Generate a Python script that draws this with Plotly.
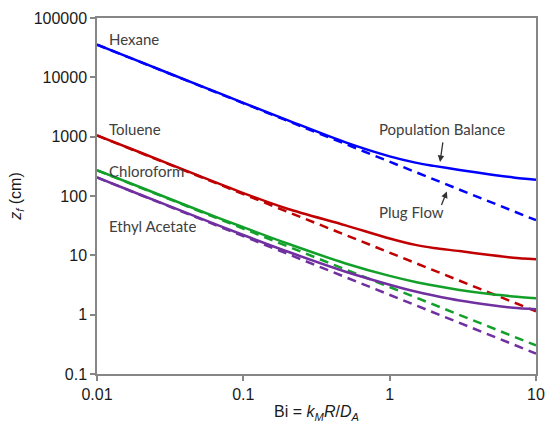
import math
import plotly.graph_objects as go

# Bi values (x) at which curves were read
bi = [0.01, 0.02, 0.05, 0.1, 0.2, 0.5, 1, 1.5, 2, 3, 5, 7, 10]

# Population balance (solid) z_f values, cm
hexane_pb = [35600, 18000, 7330, 3720, 1900, 800, 465, 365, 322, 275, 228, 205, 187]
toluene_pb = [1047, 535, 218, 112, 61, 32, 19.2, 15.0, 13.3, 11.8, 10.0, 9.1, 8.6]
chloroform_pb = [273, 139, 57, 29.7, 15.8, 7.3, 4.5, 3.56, 3.1, 2.6, 2.2, 2.03, 1.9]
ethyl_pb = [206, 104, 42.8, 22, 11.6, 5.3, 3.2, 2.45, 2.1, 1.73, 1.44, 1.31, 1.23]

# Plug flow (dashed) z_f values, cm
bi_pf = [0.01, 0.1, 1, 10]
hexane_pf = [35500, 3660, 378, 39.1]
toluene_pf = [1047, 107.7, 10.9, 1.14]
chloroform_pf = [271, 28.1, 2.92, 0.303]
ethyl_pf = [205, 21.0, 2.16, 0.221]

names = ["Hexane", "Toluene", "Chloroform", "Ethyl Acetate"]
colors = ["#0000FF", "#C00000", "#12A02A", "#7030A0"]
pb_series = [hexane_pb, toluene_pb, chloroform_pb, ethyl_pb]
pf_series = [hexane_pf, toluene_pf, chloroform_pf, ethyl_pf]

# label positions (data coords)
label_x = [0.01166, 0.01166, 0.01166, 0.01166]
label_y = [44300, 1360, 269, 31.5]

x_ticks = [0.01, 0.1, 1, 10]
x_ticktext = ["0.01", "0.1", "1", "10"]
y_ticks = [0.1, 1, 10, 100, 1000, 10000, 100000]
y_ticktext = ["0.1", "1", "10", "100", "1000", "10000", "100000"]

L = math.log10  # annotations on log axes take log10 positions

fig = go.Figure()
for name, c, pf in zip(names, colors, pf_series):
    fig.add_trace(go.Scatter(x=bi_pf, y=pf, mode="lines", name=name + " PF",
                             line=dict(color=c, width=2.5, dash="9px,6px"),
                             showlegend=False, hoverinfo="skip"))
for name, c, pb in zip(names, colors, pb_series):
    fig.add_trace(go.Scatter(x=bi, y=pb, mode="lines", name=name,
                             line=dict(color=c, width=2.5, shape="spline", smoothing=0.8),
                             showlegend=False))

lab_font = dict(family="Lato, Carlito, sans-serif", size=15, color="#404040")
for n, lx, ly in zip(names, label_x, label_y):
    fig.add_annotation(x=L(lx), y=L(ly), xref="x", yref="y", text=n, showarrow=False,
                       xanchor="left", yanchor="middle", font=lab_font)

# Population Balance / Plug Flow labels with arrows
fig.add_annotation(x=L(2.29), y=L(1360), text="Population Balance", showarrow=False,
                   xanchor="center", yanchor="middle", font=lab_font)
fig.add_annotation(x=L(1.40), y=L(54.7), text="Plug Flow", showarrow=False,
                   xanchor="center", yanchor="middle", font=lab_font)
fig.add_annotation(x=L(2.21), y=L(375), text="", showarrow=True, ax=3, ay=-21,
                   arrowhead=2, arrowsize=1, arrowwidth=1.3, arrowcolor="#333333")
fig.add_annotation(x=L(2.46), y=L(119), text="", showarrow=True, ax=-6, ay=15,
                   arrowhead=2, arrowsize=1, arrowwidth=1.3, arrowcolor="#333333")

axis_common = dict(showgrid=False, zeroline=False, showline=True, linecolor="#868686",
                   linewidth=1.5, mirror=True, ticks="outside", ticklen=5,
                   tickcolor="#868686", tickwidth=1.5,
                   tickfont=dict(family="Liberation Sans, Arial, sans-serif", size=16, color="#1a1a1a"))

fig.update_xaxes(type="log", range=[-2, 1], tickmode="array", tickvals=x_ticks,
                 ticktext=x_ticktext,
                 title=dict(text="Bi = <i>k</i><sub><i>M</i></sub><i>R</i>/<i>D</i><sub><i>A</i></sub>",
                            font=dict(family="Liberation Sans, Arial, sans-serif", size=16, color="#1a1a1a"),
                            standoff=4),
                 **axis_common)
fig.update_yaxes(type="log", range=[-1, 5], tickmode="array", tickvals=y_ticks,
                 ticktext=y_ticktext,
                 title=dict(text="<i>z</i><sub><i>f</i></sub> (cm)",
                            font=dict(family="Liberation Sans, Arial, sans-serif", size=16, color="#1a1a1a"),
                            standoff=8),
                 **axis_common)

fig.update_layout(width=555, height=428, margin=dict(l=97, r=10, t=17, b=50),
                  paper_bgcolor="white", plot_bgcolor="white", showlegend=False)

fig.write_html("out.html")
